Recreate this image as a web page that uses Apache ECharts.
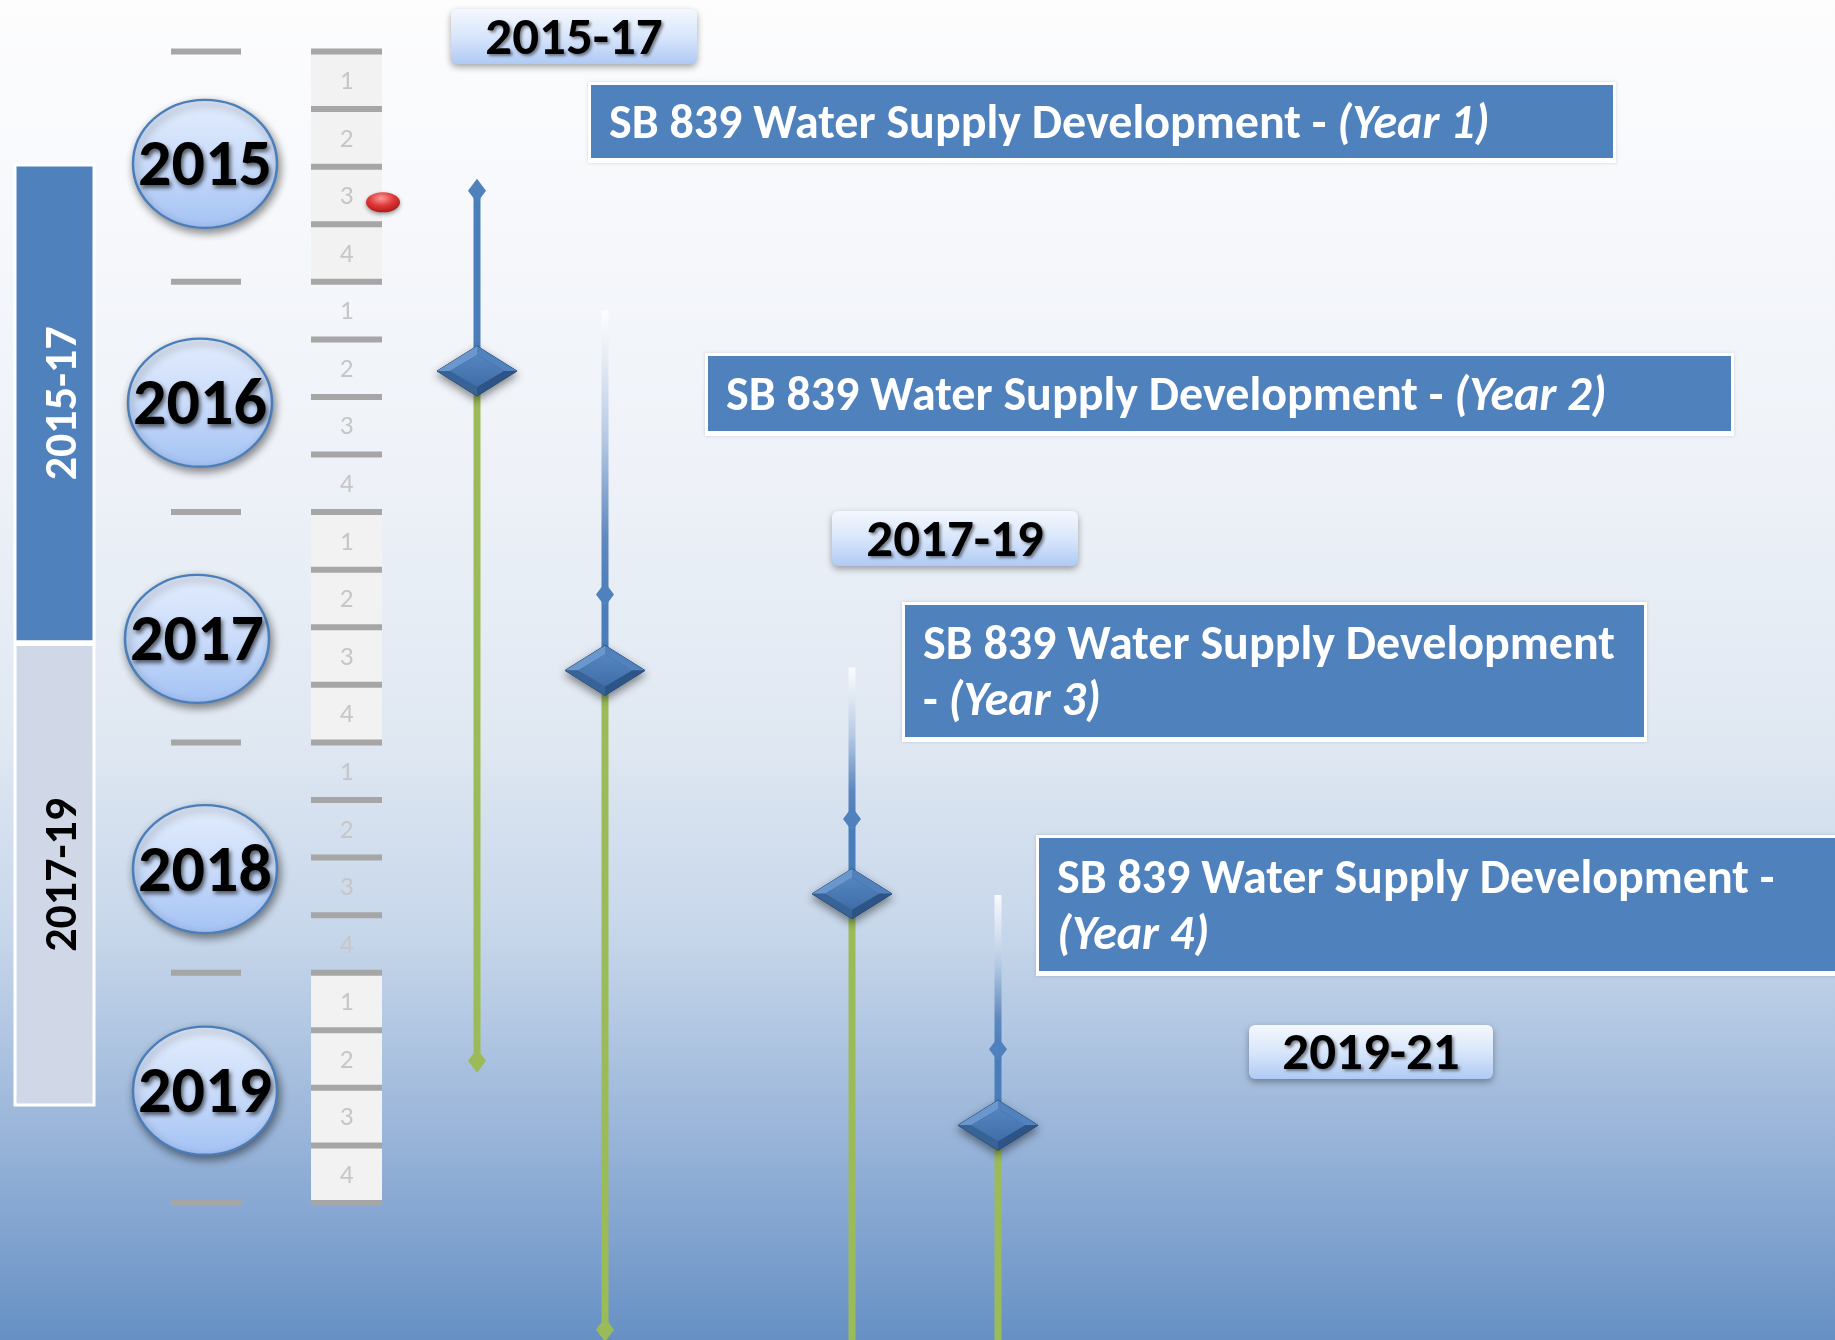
<!DOCTYPE html>
<html>
<head>
<meta charset="utf-8">
<title>SB 839 Water Supply Development timeline</title>
<script src="https://cdn.jsdelivr.net/npm/echarts@6/dist/echarts.min.js"></script>
<style>
  html, body { margin: 0; padding: 0; }
  #chart { width: 1835px; height: 1340px; }
</style>
</head>
<body>
<div id="chart"></div>
<script>
// values, time is counted in quarters from the start of 2015
const years = ['2015', '2016', '2017', '2018', '2019'];
const yearLabelQ = [1.95, 6.1, 10.2, 14.2, 18.05];
const quarters = ['1', '2', '3', '4'];
const shadedYears = ['2015', '2017', '2019'];
const biennia = ['2015-17', '2017-19'];
const bienniumStart = [1.97, 10.3];
const bienniumEnd = [10.25, 18.3];
const todayQ = 2.62;

const projectTitle = 'SB 839 Water Supply Development';
const projectYears = ['(Year 1)', '(Year 2)', '(Year 3)', '(Year 4)'];
const fadeFrom = [null, 4.5, 10.7, 14.65];
const kickoff = [2.42, 9.43, 13.33, 17.33];
const milestone = [5.55, 10.75, 14.63, 18.65];
const finish = [17.53, 22.2, 24, 24];

const bienniumTags = ['2015-17', '2017-19', '2019-21'];

// layout (pixels)
const W = 1835, H = 1340;
const laneX = [477, 605, 852, 998];
const bandX = [15, 94];
const yearTickX = [171, 241];
const quarterX = [311, 382];
const bubbleX = [205, 200, 197, 205, 205];
const boxes = [
  { x: 591, y: 85, w: 1022, h: 73, wrap: '' },
  { x: 708, y: 356, w: 1023, h: 75, wrap: '' },
  { x: 905, y: 605, w: 739, h: 132, wrap: 'beforeDash' },
  { x: 1039, y: 838, w: 830, h: 133, wrap: 'afterDash' }
];
const tagBoxes = [
  { x: 451, y: 9, w: 246, h: 55 },
  { x: 832, y: 511, w: 246, h: 55 },
  { x: 1249, y: 1025, w: 244, h: 54 }
];

// pick a narrow font that is installed and size text to the widths in the picture
const ctx = document.createElement('canvas').getContext('2d');
function hasFont(name) {
  const probe = 'SB 839 Water Supply 2015-17';
  ctx.font = 'bold 50px monospace';
  const a = ctx.measureText(probe).width;
  ctx.font = 'bold 50px "' + name + '", monospace';
  return Math.abs(ctx.measureText(probe).width - a) > 0.5;
}
const FONT = ['Carlito', 'Liberation Sans Narrow', 'Open Sans'].find(hasFont) || 'sans-serif';
function fit(text, width, max) {
  ctx.font = 'bold 100px "' + FONT + '"';
  return Math.min(max, Math.round(100 * width / ctx.measureText(text).width));
}
const boxSize = fit(projectTitle, 690, 48);
const tagSize = fit('2015-17', 178, 58);
const yearSize = fit('2015', 134, 68);
const bandSize = fit('2015-17', 154, 46);

const grad = (stops) => ({
  type: 'linear', x: 0, y: 0, x2: 0, y2: 1,
  colorStops: stops.map(([o, c]) => ({ offset: o, color: c }))
});
const diamond = (cx, cy, hw, hh) => [[cx, cy - hh], [cx + hw, cy], [cx, cy + hh], [cx - hw, cy]];

// bevelled diamond: outer outline, four facets and a flat centre
function bigDiamond(x, y) {
  const o = diamond(x, y, 40, 25);
  const n = diamond(x, y, 27, 16);
  const facet = (a, b, c) => ({ type: 'polygon', shape: { points: [o[a], o[b], n[b], n[a]] }, style: { fill: c } });
  return [
    { type: 'polygon', shape: { points: o },
      style: { fill: '#2f5a8e', stroke: '#22446d', lineWidth: 1,
        shadowBlur: 8, shadowColor: 'rgba(0,0,0,0.45)', shadowOffsetY: 4 } },
    facet(3, 0, '#6a97cd'),
    facet(0, 1, '#5282bd'),
    facet(1, 2, '#2c5486'),
    facet(2, 3, '#386397'),
    { type: 'polygon', shape: { points: n }, style: { fill: grad([[0, '#5585bf'], [1, '#3f6da7']]) } }
  ];
}

const chart = echarts.init(document.getElementById('chart'));

const option = {
  animation: false,
  graphic: [{
    type: 'rect', z: -10, silent: true,
    shape: { x: 0, y: 0, width: W, height: H },
    style: { fill: grad([[0, '#fdfdfe'], [0.35, '#eef2f8'], [0.55, '#e0e8f2'], [0.7, '#c6d6ea'], [0.85, '#98b4d9'], [1, '#6690c4']]) }
  }],
  grid: { left: 0, width: W, top: 51.5, height: 1151.5 },
  xAxis: { type: 'value', min: 0, max: W, show: false },
  yAxis: { type: 'value', min: 0, max: years.length * 4, inverse: true, show: false },
  series: [
    // biennium bands on the left
    {
      type: 'custom', name: 'biennium', clip: false,
      data: biennia.map((b, i) => [bandX[0], bienniumStart[i], bienniumEnd[i]]),
      renderItem(params, api) {
        const i = params.dataIndex;
        const top = api.coord([0, api.value(1)])[1];
        const bot = api.coord([0, api.value(2)])[1];
        const dark = i === 0;
        return {
          type: 'group', children: [
            { type: 'rect', shape: { x: bandX[0], y: top, width: bandX[1] - bandX[0], height: bot - top },
              style: { fill: dark ? '#4f81bd' : '#d0d8e8', stroke: '#ffffff', lineWidth: 3 } },
            { type: 'text', x: 64, y: (top + bot) / 2, rotation: Math.PI / 2,
              style: { text: biennia[i], fill: dark ? '#ffffff' : '#000000', fontFamily: FONT, fontWeight: 'bold',
                fontSize: bandSize, align: 'center', verticalAlign: 'middle' } }
          ]
        };
      }
    },
    // year boundary ticks
    {
      type: 'custom', name: 'yearTicks', clip: false,
      data: years.concat(['end']).map((y, i) => [yearTickX[0], i * 4]),
      renderItem(params, api) {
        const y = api.coord([0, api.value(1)])[1];
        return { type: 'rect', shape: { x: yearTickX[0], y: y - 3, width: yearTickX[1] - yearTickX[0], height: 6 },
          style: { fill: '#a6a6a6' } };
      }
    },
    // quarter cells
    {
      type: 'custom', name: 'quarters', clip: false,
      data: years.flatMap((y, i) => quarters.map((q, j) => [quarterX[0], i * 4 + j, i, j])),
      renderItem(params, api) {
        const q = api.value(1);
        const yr = years[api.value(2)];
        const top = api.coord([0, q])[1];
        const bot = api.coord([0, q + 1])[1];
        const children = [];
        if (shadedYears.indexOf(yr) >= 0) {
          children.push({ type: 'rect', shape: { x: quarterX[0], y: top, width: quarterX[1] - quarterX[0], height: bot - top },
            style: { fill: '#f2f2f2' } });
        }
        children.push({ type: 'text', x: (quarterX[0] + quarterX[1]) / 2, y: (top + bot) / 2 + 2,
          style: { text: quarters[api.value(3)], fill: '#c6c6c6', fontFamily: FONT, fontSize: 27,
            align: 'center', verticalAlign: 'middle' } });
        return { type: 'group', children };
      }
    },
    {
      type: 'custom', name: 'quarterTicks', clip: false,
      data: Array.from({ length: years.length * quarters.length + 1 }, (_, k) => [quarterX[0], k]),
      renderItem(params, api) {
        const y = api.coord([0, api.value(1)])[1];
        return { type: 'rect', shape: { x: quarterX[0], y: y - 3, width: quarterX[1] - quarterX[0], height: 6 },
          style: { fill: '#a6a6a6' } };
      }
    },
    // year bubbles
    {
      type: 'custom', name: 'years', clip: false,
      data: years.map((y, i) => [bubbleX[i], yearLabelQ[i]]),
      renderItem(params, api) {
        const p = api.coord([api.value(0), api.value(1)]);
        return {
          type: 'group', children: [
            { type: 'circle', x: p[0], y: p[1], scaleY: 64 / 72, shape: { cx: 0, cy: 0, r: 72 },
              style: { fill: grad([[0, '#e3edfd'], [0.5, '#cadcfa'], [1, '#a2c1f4']]), stroke: '#4a7ebb', lineWidth: 2.5,
                shadowBlur: 8, shadowColor: 'rgba(0,0,0,0.45)', shadowOffsetX: 2, shadowOffsetY: 4 } },
            { type: 'text', x: p[0], y: p[1] + 5,
              style: { text: years[params.dataIndex], fill: '#000000', fontFamily: FONT, fontWeight: 'bold',
                fontSize: yearSize, align: 'center', verticalAlign: 'middle',
                textShadowColor: 'rgba(0,0,0,0.6)', textShadowBlur: 4, textShadowOffsetX: 2, textShadowOffsetY: 3 } }
          ]
        };
      }
    },
    // current position marker
    {
      type: 'custom', name: 'today', clip: false,
      data: [[quarterX[1] + 1, todayQ]],
      renderItem(params, api) {
        const p = api.coord([api.value(0), api.value(1)]);
        return { type: 'circle', x: p[0], y: p[1], scaleY: 10 / 17, shape: { cx: 0, cy: 0, r: 17 },
          style: { fill: { type: 'radial', x: 0.45, y: 0.3, r: 0.8,
            colorStops: [{ offset: 0, color: '#ff9a9a' }, { offset: 0.45, color: '#e03a3a' }, { offset: 1, color: '#a50d0d' }] },
            shadowBlur: 4, shadowColor: 'rgba(0,0,0,0.4)', shadowOffsetY: 2 } };
      }
    },
    // project tracks
    {
      type: 'custom', name: 'tracks', clip: false,
      data: projectYears.map((p, i) => [laneX[i], kickoff[i], milestone[i], finish[i], fadeFrom[i] == null ? kickoff[i] : fadeFrom[i]]),
      renderItem(params, api) {
        const x = api.value(0);
        const y = (k) => api.coord([x, api.value(k)])[1];
        const yStart = y(1), yMile = y(2), yEnd = y(3), yFade = y(4);
        const lw = 7;
        const children = [];
        if (yFade < yStart) {
          children.push({ type: 'rect', shape: { x: x - lw / 2, y: yFade, width: lw, height: yStart - yFade },
            style: { fill: grad([[0, 'rgba(255,255,255,0.85)'], [0.45, '#b5c9e3'], [0.8, '#5f89bf'], [1, '#4a7ebb']]) } });
        }
        children.push({ type: 'rect', shape: { x: x - lw / 2, y: yStart, width: lw, height: yMile - yStart },
          style: { fill: '#4a7ebb' } });
        children.push({ type: 'rect', shape: { x: x - lw / 2, y: yMile, width: lw, height: yEnd - yMile },
          style: { fill: '#9bbb59' } });
        children.push({ type: 'polygon', shape: { points: diamond(x, yStart, 9, 12) }, style: { fill: '#4f81bd' } });
        children.push({ type: 'polygon', shape: { points: diamond(x, yEnd, 9, 12) }, style: { fill: '#9bbb59' } });
        return { type: 'group', children: children.concat(bigDiamond(x, yMile)) };
      }
    },
    // project boxes
    {
      type: 'custom', name: 'projects', coordinateSystem: 'none', clip: false,
      data: projectYears.map((p, i) => i),
      renderItem(params) {
        const i = params.dataIndex;
        const b = boxes[i];
        let text;
        if (b.wrap === 'beforeDash') text = '{b|' + projectTitle + '}\n{b|- }{i|' + projectYears[i] + '}';
        else if (b.wrap === 'afterDash') text = '{b|' + projectTitle + ' -}\n{i|' + projectYears[i] + '}';
        else text = '{b|' + projectTitle + ' - }{i|' + projectYears[i] + '}';
        const ts = { fill: '#ffffff', fontFamily: FONT, fontWeight: 'bold', fontSize: boxSize, lineHeight: 56 };
        return {
          type: 'group', children: [
            { type: 'rect', shape: { x: b.x - 3, y: b.y - 3, width: b.w + 6, height: b.h + 8 },
              style: { fill: '#ffffff', shadowBlur: 3, shadowColor: 'rgba(0,0,0,0.15)' } },
            { type: 'rect', shape: { x: b.x, y: b.y, width: b.w, height: b.h }, style: { fill: '#4f81bd' } },
            { type: 'text', x: b.x + 18, y: b.y + b.h / 2 + 4,
              style: { text, align: 'left', verticalAlign: 'middle', fill: '#ffffff', fontFamily: FONT,
                fontSize: boxSize, fontWeight: 'bold', lineHeight: 56,
                rich: { b: ts, i: Object.assign({}, ts, { fontStyle: 'italic' }) } } }
          ]
        };
      }
    },
    // biennium tags
    {
      type: 'custom', name: 'tags', coordinateSystem: 'none', clip: false,
      data: bienniumTags.map((t, i) => i),
      renderItem(params) {
        const i = params.dataIndex;
        const b = tagBoxes[i];
        return {
          type: 'group', children: [
            { type: 'rect', shape: { x: b.x, y: b.y, width: b.w, height: b.h, r: 6 },
              style: { fill: grad([[0, '#f4f8fe'], [0.5, '#d8e6fb'], [1, '#afcaf4']]),
                shadowBlur: 7, shadowColor: 'rgba(0,0,0,0.35)', shadowOffsetY: 3 } },
            { type: 'text', x: b.x + b.w / 2, y: b.y + b.h / 2 + 4,
              style: { text: bienniumTags[i], fill: '#000000', fontFamily: FONT, fontWeight: 'bold', fontSize: tagSize,
                align: 'center', verticalAlign: 'middle',
                textShadowColor: 'rgba(0,0,0,0.45)', textShadowBlur: 3, textShadowOffsetX: 2, textShadowOffsetY: 2 } }
          ]
        };
      }
    }
  ]
};

chart.setOption(option);
</script>
</body>
</html>
